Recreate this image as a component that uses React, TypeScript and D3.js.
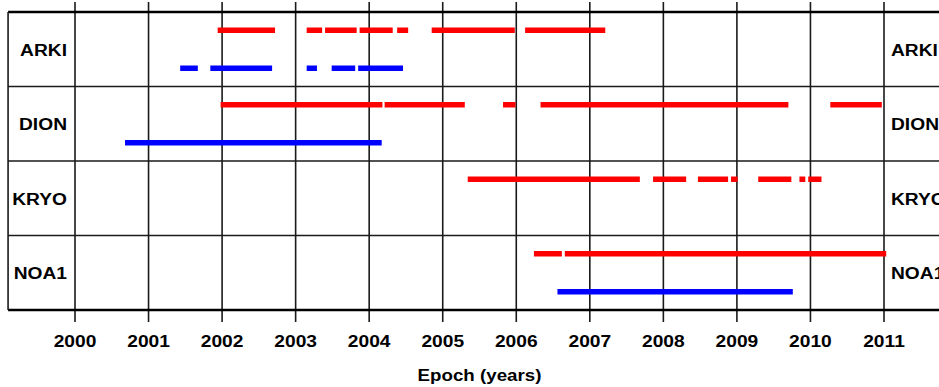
import { useRef, useEffect } from 'react';
import * as d3 from 'd3';

const stations = ['ARKI', 'DION', 'KRYO', 'NOA1'];
const years = [2000, 2001, 2002, 2003, 2004, 2005, 2006, 2007, 2008, 2009, 2010, 2011];

// observation spans per station, [start, end] in decimal years
const arkiRed = [[2001.94, 2002.72], [2003.15, 2003.36], [2003.40, 2003.83], [2003.87, 2004.32], [2004.38, 2004.53], [2004.85, 2005.98], [2006.12, 2007.21]];
const arkiBlue = [[2001.43, 2001.67], [2001.84, 2002.68], [2003.15, 2003.29], [2003.49, 2003.81], [2003.85, 2004.46]];
const dionRed = [[2001.98, 2004.18], [2004.21, 2005.30], [2005.82, 2005.99], [2006.33, 2009.70], [2010.27, 2010.97]];
const dionBlue = [[2000.68, 2004.17]];
const kryoRed = [[2005.34, 2007.68], [2007.86, 2008.31], [2008.47, 2008.88], [2008.92, 2009.01], [2009.29, 2009.74], [2009.85, 2009.93], [2009.97, 2010.15]];
const kryoBlue: number[][] = [];
const noa1Red = [[2006.24, 2006.62], [2006.66, 2011.03]];
const noa1Blue = [[2006.56, 2009.76]];

const redSpans = [arkiRed, dionRed, kryoRed, noa1Red];
const blueSpans = [arkiBlue, dionBlue, kryoBlue, noa1Blue];

const W = 939;
const H = 387;
const top = 12;
const bottom = 310;
const font = '"Liberation Sans", Arial, sans-serif';

const App = () => {
  const svgRef = useRef<SVGSVGElement>(null);

  useEffect(() => {
    document.body.style.margin = '0';
    const svg = d3.select(svgRef.current);
    svg.selectAll('*').remove();

    const x = d3.scaleLinear().domain([2000, 2011]).range([75, 884]);
    const y = d3.scaleBand().domain(stations).range([top, bottom]);
    const left = x(1999.09);
    const right = x(2011.91);

    svg.append('rect').attr('width', W).attr('height', H).attr('fill', '#fff');

    // vertical grid lines with ticks beyond the frame
    svg
      .selectAll('.vgrid')
      .data(years)
      .join('line')
      .attr('x1', (d) => x(d))
      .attr('x2', (d) => x(d))
      .attr('y1', 2)
      .attr('y2', bottom + 12)
      .attr('stroke', '#1a1a1a')
      .attr('stroke-width', 1.6);

    // row separators
    svg
      .selectAll('.hgrid')
      .data(stations.slice(1))
      .join('line')
      .attr('x1', left)
      .attr('x2', right)
      .attr('y1', (d) => y(d)!)
      .attr('y2', (d) => y(d)!)
      .attr('stroke', '#1a1a1a')
      .attr('stroke-width', 1.6);

    // frame
    svg.append('line').attr('x1', left).attr('x2', right).attr('y1', top).attr('y2', top)
      .attr('stroke', '#000').attr('stroke-width', 2.6);
    svg.append('line').attr('x1', left).attr('x2', right).attr('y1', bottom).attr('y2', bottom)
      .attr('stroke', '#000').attr('stroke-width', 2.6);
    svg.append('line').attr('x1', left).attr('x2', left).attr('y1', top).attr('y2', bottom)
      .attr('stroke', '#1a1a1a').attr('stroke-width', 1.6);

    const bw = y.bandwidth();
    const drawSpans = (spans: number[][][], offset: number, color: string) => {
      stations.forEach((s, i) => {
        svg
          .append('g')
          .selectAll('line')
          .data(spans[i])
          .join('line')
          .attr('x1', (d) => x(d[0]))
          .attr('x2', (d) => x(d[1]))
          .attr('y1', y(s)! + bw / 2 + offset)
          .attr('y2', y(s)! + bw / 2 + offset)
          .attr('stroke', color)
          .attr('stroke-width', 5.5);
      });
    };
    drawSpans(redSpans, -19, '#ff0000');
    drawSpans(blueSpans, 19, '#0000ff');

    // station labels, both sides
    const labels = (xPos: number, anchor: string) =>
      svg
        .append('g')
        .selectAll('g')
        .data(stations)
        .join('g')
        .attr('transform', (d) => `translate(${xPos},${y(d)! + bw / 2 + 6.5}) scale(1.13,1)`)
        .append('text')
        .attr('text-anchor', anchor)
        .attr('font-family', font)
        .attr('font-weight', 'bold')
        .attr('font-size', 17)
        .attr('fill', '#000')
        .text((d) => d);
    labels(67, 'end');
    labels(x(2011) + 7, 'start');

    // tick labels
    svg
      .append('g')
      .selectAll('g')
      .data(years)
      .join('g')
      .attr('transform', (d) => `translate(${x(d)},347) scale(1.2,1)`)
      .append('text')
      .attr('text-anchor', 'middle')
      .attr('font-family', font)
      .attr('font-weight', 'bold')
      .attr('font-size', 16)
      .text((d) => d);

    svg
      .append('g')
      .attr('transform', `translate(${x(2005.5)},381) scale(1.17,1)`)
      .append('text')
      .attr('text-anchor', 'middle')
      .attr('font-family', font)
      .attr('font-weight', 'bold')
      .attr('font-size', 16)
      .text('Epoch (years)');
  }, []);

  return <svg ref={svgRef} width={W} height={H} style={{ display: 'block' }} />;
};

export default App;
